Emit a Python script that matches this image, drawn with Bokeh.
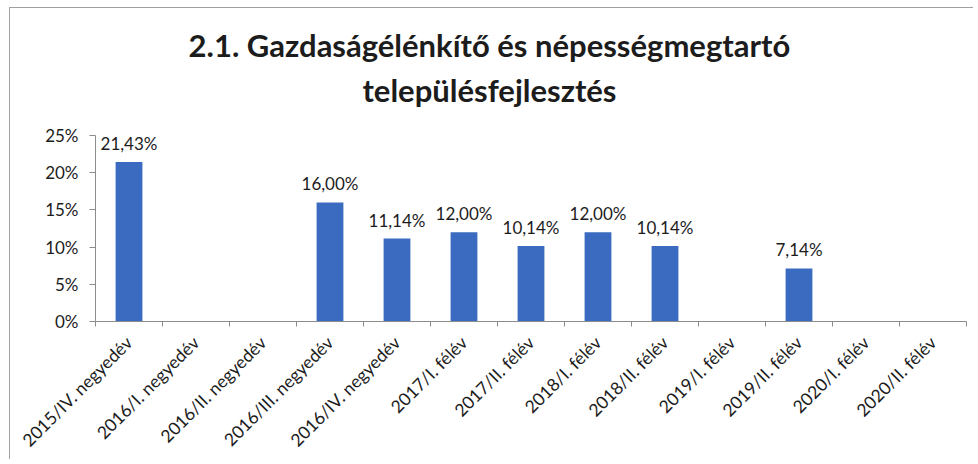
import math
from bokeh.plotting import figure
from bokeh.models import (ColumnDataSource, FixedTicker, LabelSet, Label, Range1d,
                          CustomJSTickFormatter)
from bokeh.core.properties import value
from bokeh.embed import file_html
from bokeh.resources import INLINE

title_line1 = "2.1. Gazdaságélénkítő és népességmegtartó"
title_line2 = "településfejlesztés"

categories = [
    "2015/IV. negyedév", "2016/I. negyedév", "2016/II. negyedév",
    "2016/III. negyedév", "2016/IV. negyedév", "2017/I. félév",
    "2017/II. félév", "2018/I. félév", "2018/II. félév", "2019/I. félév",
    "2019/II. félév", "2020/I. félév", "2020/II. félév",
]
values = [21.43, 0, 0, 16.00, 11.14, 12.00, 10.14, 12.00, 10.14, 0, 7.14, 0, 0]
y_ticks = [0, 5, 10, 15, 20, 25]

FONT = "Lato"
TXT = "#1c1c1c"
BAR = "#3a6bc0"
AXIS = "#8c8c8c"

n = len(categories)
xs = list(range(n))
labels = [(f"{v:.2f}".replace(".", ",") + "%") if v > 0 else "" for v in values]

src = ColumnDataSource(dict(x=xs, top=values, label=labels))

# frame extends over the title area; the y axis itself is bounded to 0..25
p = figure(width=964, height=452, output_backend="svg", toolbar_location=None,
           x_range=Range1d(-0.5, n - 0.5), y_range=Range1d(0, 42.07),
           min_border_left=85, min_border_right=8, min_border_top=0,
           min_border_bottom=139)
p.styles = {"border-left": "1px solid #a0a0a0", "border-top": "1px solid #a0a0a0",
            "margin-left": "9px", "margin-top": "7px"}
p.outline_line_color = None
p.grid.visible = False
p.background_fill_color = "white"
p.border_fill_color = "white"

p.vbar(x="x", top="top", width=0.4, source=src, fill_color=BAR, line_color=None)

p.add_layout(LabelSet(x="x", y="top", text="label", source=src, text_align="center",
                      text_baseline="alphabetic", y_offset=12,
                      text_font=value(FONT), text_font_size="17px", text_color=TXT))

# x axis: labels at category centres, tick marks at category boundaries
xa = p.xaxis[0]
xa.ticker = FixedTicker(ticks=xs, minor_ticks=[i - 0.5 for i in range(n + 1)])
xa.formatter = CustomJSTickFormatter(args=dict(labels=categories),
                                     code="return labels[Math.round(tick)] || '';")
xa.major_tick_line_color = None
xa.minor_tick_line_color = AXIS
xa.minor_tick_out = 5
xa.minor_tick_in = 0
xa.axis_line_color = AXIS
xa.major_label_orientation = math.pi / 4
xa.major_label_text_font = FONT
xa.major_label_text_font_size = "17.5px"
xa.major_label_text_color = TXT
xa.major_label_standoff = 12

ya = p.yaxis[0]
ya.ticker = FixedTicker(ticks=y_ticks, minor_ticks=[])
ya.bounds = (0, 25)
ya.formatter = CustomJSTickFormatter(code="return tick.toFixed(0) + '%';")
ya.axis_line_color = AXIS
ya.major_tick_line_color = AXIS
ya.major_tick_out = 6
ya.major_tick_in = 0
ya.major_label_standoff = 11
ya.major_label_text_font = FONT
ya.major_label_text_font_size = "17px"
ya.major_label_text_color = TXT

p.add_layout(Label(x=5.38, y=37.1, text=title_line1, text_align="center",
                   text_baseline="middle", text_font=FONT,
                   text_font_size="31px", text_font_style="bold", text_color=TXT))
p.add_layout(Label(x=5.38, y=31.05, text=title_line2, text_align="center",
                   text_baseline="middle", text_font=FONT,
                   text_font_size="31px", text_font_style="bold", text_color=TXT))

open("out.html", "w").write(file_html(p, INLINE))
